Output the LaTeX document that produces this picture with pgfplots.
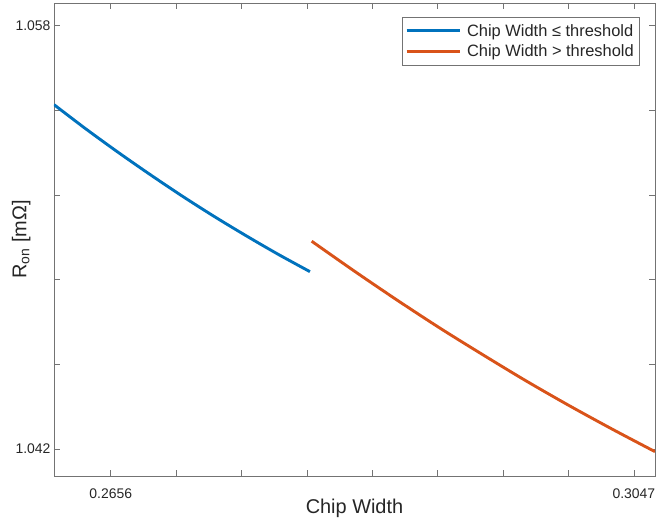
\documentclass[border=0pt]{standalone}
\usepackage{pgfplots}
\pgfplotsset{compat=1.18}
\usepackage{fontspec}
\setmainfont{Liberation Sans}
\definecolor{mblue}{rgb}{0,0.447,0.741}
\definecolor{morange}{rgb}{0.851,0.325,0.098}
\definecolor{axgray}{gray}{0.45}
\definecolor{txt}{gray}{0.15}
\begin{document}
\begin{tikzpicture}
\begin{axis}[
  scale only axis,
  width=601bp, height=473bp,
  xmin=0.26136, xmax=0.30628,
  ymin=1.04098, ymax=1.05885,
  axis line style={axgray},
  tick style={axgray, line width=0.5bp},
  major tick length=6bp,
  tick align=inside,
  xtick={0.2656,0.270488,0.275375,0.280263,0.28515,0.290038,0.294925,0.299813,0.3047},
  xticklabels={0.2656,,,,,,,,0.3047},
  ytick={1.042,1.0452,1.0484,1.0516,1.0548,1.058},
  yticklabels={1.042,,,,,1.058},
  /pgf/number format/assume math mode=true,
  ticklabel style={font=\fontsize{14}{16}\selectfont, text=txt},
  xticklabel style={yshift=-9bp},
  xlabel={Chip Width},
  ylabel={R\textsubscript{on} [mΩ]},
  label style={font=\fontsize{20}{23}\selectfont, text=txt},
  xlabel style={at={(axis description cs:0.5,0)}, anchor=north, yshift=-20bp},
  ylabel style={at={(axis description cs:0,0.5)}, anchor=south, yshift=20bp},
  legend style={at={(1,1)}, anchor=north east, xshift=-16bp, yshift=-14bp,
    draw=axgray, font=\fontsize{16.5}{19}\selectfont, text=txt,
    inner xsep=3bp, inner ysep=5bp, row sep=3bp,
    /tikz/every odd column/.append style={column sep=4bp}},
  legend cell align=left,
  legend image code/.code={\draw[#1] (0bp,0bp) -- (53bp,0bp);},
]
\addplot[mblue, line width=2.9bp, smooth] coordinates {
(0.26136,1.05501) (0.26375,1.05409) (0.26615,1.05321) (0.26854,1.05237)
(0.27093,1.05156) (0.27332,1.05079) (0.27571,1.05006) (0.27810,1.04936)
(0.28049,1.04870)};
\addlegendentry{Chip Width ≤ threshold}
\addplot[morange, line width=2.9bp, smooth] coordinates {
(0.28062,1.04985) (0.28384,1.04871) (0.28705,1.04761) (0.29026,1.04655)
(0.29348,1.04554) (0.29669,1.04456) (0.29990,1.04363) (0.30312,1.04274)
(0.30628,1.04190)};
\addlegendentry{Chip Width > threshold}
\end{axis}
\pgfresetboundingbox
\path[use as bounding box] ([xshift=-54bp,yshift=-44bp]current axis.south west) rectangle ([xshift=1bp,yshift=3bp]current axis.north east);
\end{tikzpicture}
\end{document}
